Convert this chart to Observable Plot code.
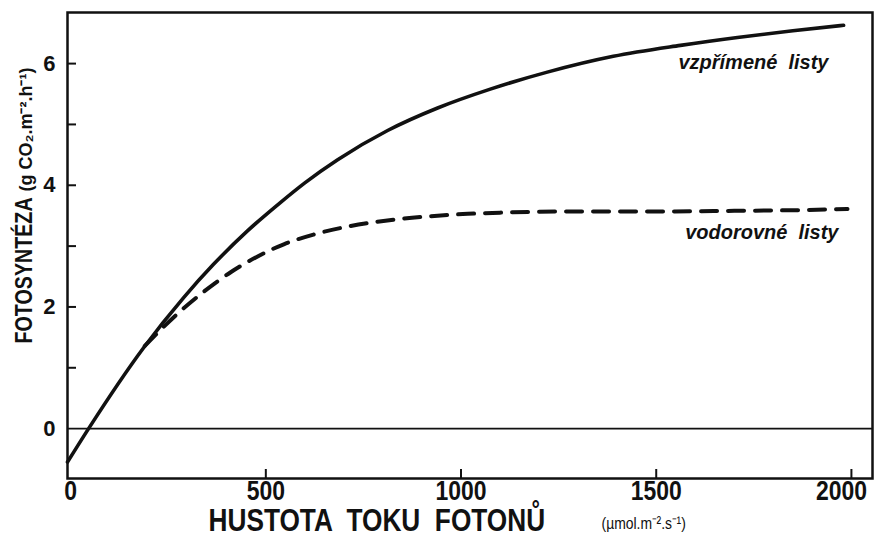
<!DOCTYPE html>
<html><head><meta charset="utf-8">
<script src="https://cdn.jsdelivr.net/npm/d3@7"></script>
<script src="https://cdn.jsdelivr.net/npm/@observablehq/plot@0.6"></script>
<style>body{margin:0;background:#fff} svg{display:block}</style>
</head><body><div id="chart"></div>
<script>
// vzpřímené listy (solid)
const uprightFlux = [-8, 46, 187, 289, 366, 453, 538, 600, 684, 812, 940, 1075, 1221, 1390, 1562, 1708, 1850, 1980];
const uprightRate = [-0.55, 0, 1.33, 2.15, 2.7, 3.25, 3.72, 4.04, 4.42, 4.9, 5.27, 5.58, 5.86, 6.12, 6.3, 6.43, 6.54, 6.63];
// vodorovné listy (dashed)
const horizFlux = [190, 269, 341, 410, 479, 546, 622, 717, 837, 940, 1017, 1100, 1300, 1500, 1700, 1850, 1990];
const horizRate = [1.36, 1.86, 2.25, 2.57, 2.83, 3.03, 3.19, 3.33, 3.44, 3.5, 3.53, 3.55, 3.57, 3.57, 3.58, 3.59, 3.61];

const xTickLabels = [0, 500, 1000, 1500, 2000];
const yTickLabels = [0, 2, 4, 6];
const xTicks = [500, 1000, 1500, 2000];
const yTicks = [1, 2, 3, 4, 5, 6];

const upright = uprightFlux.map((x, i) => ({x, y: uprightRate[i]}));
const horiz = horizFlux.map((x, i) => ({x, y: horizRate[i]}));

const sans = "'Liberation Sans', Arial, Helvetica, sans-serif";

const plot = Plot.plot({
  width: 882, height: 537,
  marginLeft: 67, marginRight: 10, marginTop: 12, marginBottom: 59,
  x: {domain: [-8, 2054], axis: null},
  y: {domain: [-0.82, 6.84], axis: null},
  marks: [
    Plot.ruleY([0], {stroke: "#111", strokeWidth: 1.6}),
    Plot.tickX(xTicks, {x: d => d, insetTop: 457, stroke: "#111", strokeWidth: 2}),
    Plot.tickY(yTicks, {y: d => d, insetRight: 796, stroke: "#111", strokeWidth: 2}),
    Plot.line(horiz, {x: "x", y: "y", curve: "monotone-x", stroke: "#111", strokeWidth: 4, strokeDasharray: "16,11"}),
    Plot.line(upright, {x: "x", y: "y", curve: "monotone-x", stroke: "#111", strokeWidth: 3.6}),
    Plot.frame({stroke: "#111", strokeWidth: 2.5}),
    Plot.text(yTickLabels, {y: d => d, text: d => String(d), frameAnchor: "left", dx: -12, textAnchor: "end", lineAnchor: "middle", fontFamily: sans, fontWeight: "bold", fontSize: 22, fill: "#111"}),
    Plot.text(xTickLabels.slice(0, -1), {ariaLabel: () => "narrow", x: d => d, text: d => String(d), frameAnchor: "bottom", dy: 2, lineAnchor: "top", fontFamily: sans, fontWeight: "bold", fontSize: 28, fill: "#111"}),
    Plot.text(xTickLabels.slice(-1), {ariaLabel: () => "narrow", x: d => d, text: d => String(d), frameAnchor: "bottom", dy: 2, dx: -10, lineAnchor: "top", fontFamily: sans, fontWeight: "bold", fontSize: 28, fill: "#111"}),
    Plot.text(["HUSTOTA  TOKU  FOTONŮ"], {ariaLabel: () => "narrow", frameAnchor: "bottom-left", dx: 141, dy: 52, textAnchor: "start", lineAnchor: "bottom", fontFamily: sans, fontWeight: "bold", fontSize: 32, fill: "#111"}),
    Plot.text(["(µmol.m⁻².s⁻¹)"], {ariaLabel: () => "narrow", frameAnchor: "bottom-left", dx: 534, dy: 50, textAnchor: "start", lineAnchor: "bottom", fontFamily: sans, fontSize: 17, fill: "#111"}),
    Plot.text(["FOTOSYNTÉZA"], {ariaLabel: () => "narrow", frameAnchor: "top-left", dx: -36, dy: 331, rotate: -90, textAnchor: "start", lineAnchor: "bottom", fontFamily: sans, fontWeight: "bold", fontSize: 24, fill: "#111"}),
    Plot.text(["(g CO₂.m⁻².h⁻¹)"], {frameAnchor: "top-left", dx: -36, dy: 179, rotate: -90, textAnchor: "start", lineAnchor: "bottom", fontFamily: sans, fontWeight: "bold", fontSize: 18, fill: "#111"}),
    Plot.text(["vzpřímené  listy"], {frameAnchor: "top-right", dx: -44, dy: 56, textAnchor: "end", lineAnchor: "bottom", fontFamily: sans, fontWeight: "bold", fontStyle: "italic", fontSize: 20, fill: "#111"}),
    Plot.text(["vodorovné  listy"], {frameAnchor: "top-right", dx: -34, dy: 226, textAnchor: "end", lineAnchor: "bottom", fontFamily: sans, fontWeight: "bold", fontStyle: "italic", fontSize: 20, fill: "#111"})
  ]
});
d3.select(plot).selectAll('text').filter(function() {
  return this.getAttribute("aria-label") === "narrow";
}).each(function() {
  const t = this.getAttribute("transform") || "";
  this.setAttribute("transform", t + " scale(0.82,1)");
  this.removeAttribute("aria-label");
});
document.getElementById("chart").appendChild(plot);
</script>
</body></html>
